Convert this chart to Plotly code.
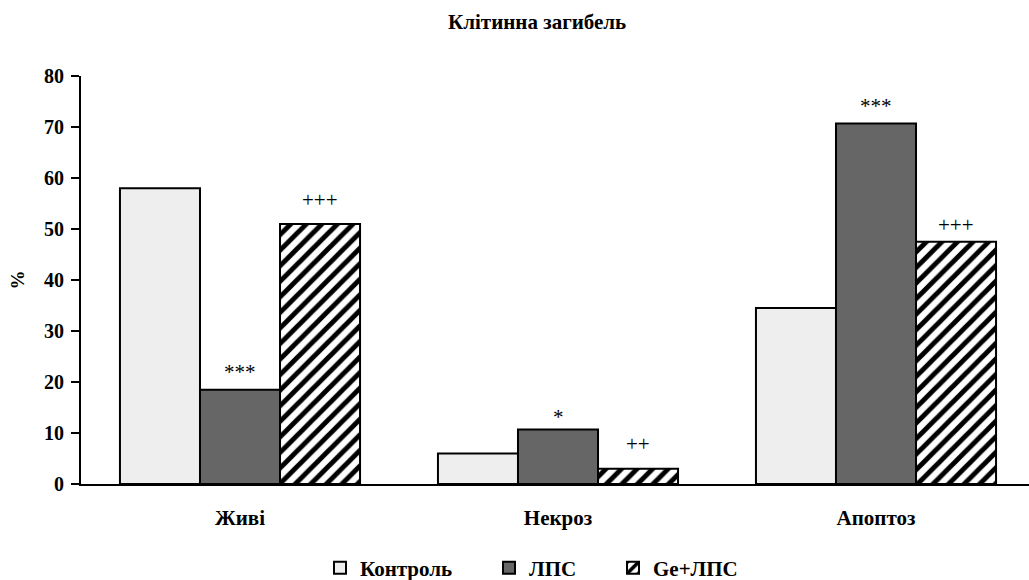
import plotly.graph_objects as go

categories = ["Живі", "Некроз", "Апоптоз"]
control = [58.0, 6.0, 34.5]
lps = [18.5, 10.7, 70.7]
ge_lps = [51.0, 3.0, 47.5]
lps_marks = ["***", "*", "***"]
ge_lps_marks = ["+++", "++", "+++"]
y_ticks = [0, 10, 20, 30, 40, 50, 60, 70, 80]

FONT = "Liberation Serif"
x = list(range(len(categories)))

# plot area in pixels (for placing the legends)
PL, PR, PT, PB = 81, 1029, 76, 484
def px_x(p):
    return (p - PL) / (PR - PL)
def px_y(p):
    return (PB - p) / (PB - PT)

fig = go.Figure()
fig.add_trace(go.Bar(
    x=x, y=control, name="<b>Контроль</b>", legend="legend",
    marker=dict(color="#eeeeee", line=dict(color="black", width=2)),
))
fig.add_trace(go.Bar(
    x=x, y=lps, name="<b>ЛПС</b>", legend="legend2",
    marker=dict(color="#666666", line=dict(color="black", width=2)),
))
fig.add_trace(go.Bar(
    x=x, y=ge_lps, name="<b>Ge+ЛПС</b>", legend="legend3",
    marker=dict(
        color="white",
        line=dict(color="black", width=2),
        pattern=dict(shape="/", fgcolor="black", bgcolor="white",
                     size=11, solidity=0.45, fillmode="replace"),
    ),
))

# significance marks above the ЛПС and Ge+ЛПС bars (pixel gap above each bar)
group_w = 0.755
bar_w = group_w / 3
lps_gap = [18, 12, 17]
ge_gap = [24, 25, 17]
annotations = []
for i in x:
    for offset, vals, marks, gaps in ((0.0, lps, lps_marks, lps_gap),
                                      (bar_w, ge_lps, ge_lps_marks, ge_gap)):
        annotations.append(dict(
            x=i + offset, y=vals[i], xref="x", yref="y",
            text=marks[i], showarrow=False, yanchor="middle", yshift=gaps[i],
            font=dict(family=FONT, size=21, color="black"),
        ))

legend_font = dict(family=FONT, size=21, color="black")
def legend_at(left_px):
    return dict(orientation="h", x=px_x(left_px), xanchor="left",
                y=px_y(568), yanchor="middle", font=legend_font,
                itemwidth=30, bgcolor="rgba(0,0,0,0)", borderwidth=0)

fig.update_layout(
    width=1029, height=580,
    paper_bgcolor="white", plot_bgcolor="white",
    margin=dict(l=PL, r=1029 - PR, t=PT, b=580 - PB, autoexpand=False),
    barmode="group", bargap=1 - group_w, bargroupgap=0,
    font=dict(family=FONT, color="black"),
    title=dict(text="<b>Клітинна загибель</b>", x=0.522, xanchor="center",
               y=1 - 22 / 580, yanchor="middle", font=dict(family=FONT, size=21)),
    showlegend=True,
    legend=legend_at(320),
    legend2=legend_at(489),
    legend3=legend_at(613),
    annotations=annotations,
)
fig.update_xaxes(
    range=[-0.5, 2.5 - 6 / 318], tickvals=x, ticktext=[f"<b>{c}</b>" for c in categories],
    showline=True, linecolor="black", linewidth=2, ticks="", showgrid=False,
    tickfont=dict(family=FONT, size=21, color="black"), ticklabelstandoff=14,
    zeroline=False,
)
fig.update_yaxes(
    range=[0, 80], tickvals=y_ticks, ticktext=[f"<b>{t}</b>" for t in y_ticks],
    showline=True, linecolor="black", linewidth=2, ticks="outside", ticklen=8,
    tickwidth=2, tickcolor="black", showgrid=False, zeroline=False,
    tickfont=dict(family=FONT, size=20, color="black"), ticklabelstandoff=3,
    title=dict(text="<b>%</b>", font=dict(family=FONT, size=19), standoff=14),
)

fig.write_html("out.html")
